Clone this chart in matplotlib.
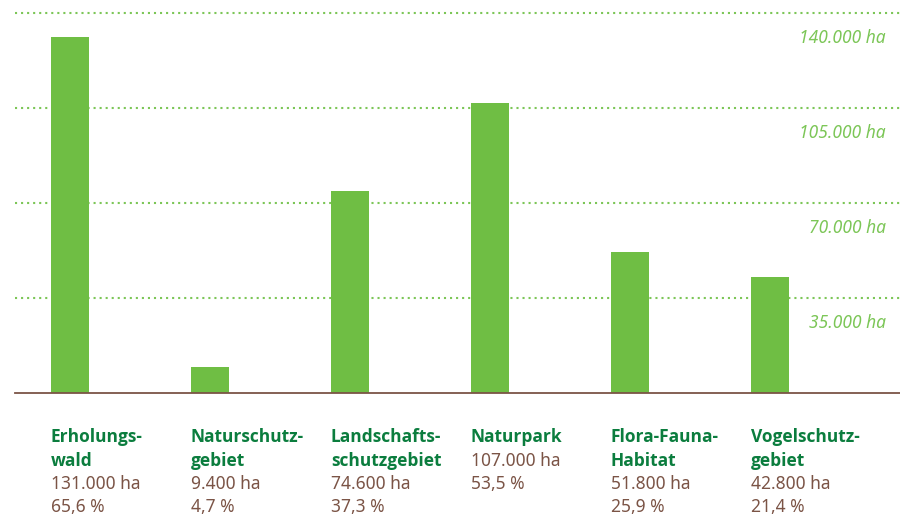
import matplotlib.pyplot as plt

categories = ["Erholungs-\nwald", "Naturschutz-\ngebiet", "Landschafts-\nschutzgebiet",
              "Naturpark", "Flora-Fauna-\nHabitat", "Vogelschutz-\ngebiet"]
areas = [131000, 9400, 74600, 107000, 51800, 42800]
area_labels = ["131.000 ha", "9.400 ha", "74.600 ha", "107.000 ha", "51.800 ha", "42.800 ha"]
share_labels = ["65,6 %", "4,7 %", "37,3 %", "53,5 %", "25,9 %", "21,4 %"]
grid_values = [35000, 70000, 105000, 140000]
grid_labels = ["35.000 ha", "70.000 ha", "105.000 ha", "140.000 ha"]

bar_green = "#6fbe44"
light_green = "#7cc657"
dark_green = "#0b7d3e"
brown = "#7b5446"

plt.rcParams['font.family'] = ['Noto Sans', 'DejaVu Sans']

W, H = 900, 517
fig = plt.figure(figsize=(9, 5.17), dpi=100)
ax = fig.add_axes([15 / W, (H - 393) / H, 885 / W, 380 / H])
ax.set_xlim(-55 / 140, 830 / 140)
ax.set_ylim(0, 140000)
for s in ax.spines.values():
    s.set_visible(False)
ax.set_xticks([])
ax.set_yticks([])

for v, lab in zip(grid_values, grid_labels):
    ax.axhline(v, color=light_green, linestyle=(0, (1, 1.9)), linewidth=1.5,
               zorder=1, clip_on=False)
    ax.annotate(lab, xy=(1, v), xycoords=('axes fraction', 'data'),
                xytext=(-14, -25), textcoords='offset pixels',
                ha='right', va='center', fontsize=12.5, style='italic',
                color=light_green)

x = list(range(len(categories)))
ax.bar(x, areas, width=38 / 140, color=bar_green, zorder=2)
ax.axhline(0, color=brown, linewidth=1.3, zorder=3, clip_on=False)

for i, (cat, a, sh) in enumerate(zip(categories, area_labels, share_labels)):
    lines = cat.split("\n")
    xl = i - 19 / 140
    y0 = -44 * 140000 / 380
    step = 23.5 * 140000 / 380
    rows = [(t, dark_green, 'bold', 'Open Sans') for t in lines] + \
           [(a, brown, 'normal', 'Noto Sans'), (sh, brown, 'normal', 'Noto Sans')]
    for k, (t, c, w, fam) in enumerate(rows):
        ax.text(xl, y0 - k * step, t, ha='left', va='center', fontsize=12.5,
                color=c, fontweight=w, family=[fam, 'DejaVu Sans'], clip_on=False)

fig.savefig("out.png", dpi=100)
